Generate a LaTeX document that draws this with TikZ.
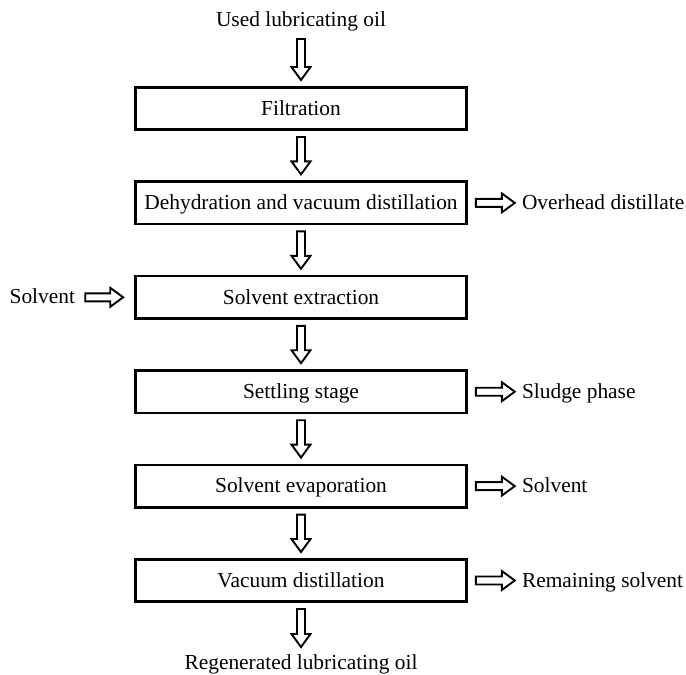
\documentclass[tikz,border=0pt]{standalone}
\usepackage{fontspec}
\setmainfont{Liberation Serif}
\usetikzlibrary{calc}
\tikzset{
  stage/.style={draw, line width=2.6pt, minimum width=331pt, minimum height=42.4pt, inner sep=0pt,
    text height=14.5pt, text depth=1pt, font=\fontsize{21.4}{25}\selectfont},
  lbl/.style={inner sep=0pt, font=\fontsize{21.4}{25}\selectfont},
  barrow/.style={draw, line width=1.9pt, fill=white, line join=miter,
    to path={
      ($(\tikztostart)!4pt!90:(\tikztotarget)$)
      -- ($(\tikztotarget)!13pt!(\tikztostart)!4pt!-90:(\tikztostart)$)
      -- ($(\tikztotarget)!13pt!(\tikztostart)!9.5pt!-90:(\tikztostart)$)
      -- (\tikztotarget)
      -- ($(\tikztotarget)!13pt!(\tikztostart)!9.5pt!90:(\tikztostart)$)
      -- ($(\tikztotarget)!13pt!(\tikztostart)!4pt!90:(\tikztostart)$)
      -- ($(\tikztostart)!4pt!-90:(\tikztotarget)$) -- cycle}}
}
\begin{document}
\begin{tikzpicture}[x=1pt, y=-1pt]
\useasboundingbox (0,0) rectangle (686,675);
% stages
\node[stage] (s1) at (301,108.5) {Filtration};
\node[stage] (s2) at (301,202.9) {Dehydration and vacuum distillation};
\node[stage] (s3) at (301,297.3) {Solvent extraction};
\node[stage] (s4) at (301,391.7) {Settling stage};
\node[stage] (s5) at (301,486.1) {Solvent evaporation};
\node[stage] (s6) at (301,580.5) {Vacuum distillation};
% input / output texts
\node[lbl, anchor=base] (in) at (301,26) {Used lubricating oil};
\node[lbl, anchor=base] (out) at (301,669.5) {Regenerated lubricating oil};
\coordinate (tin) at (301,39);
\coordinate (tout) at (301,647);
% vertical arrows
\draw[barrow] (tin) to ([yshift=6pt]s1.north);
\draw[barrow] ([yshift=-6pt]s1.south) to ([yshift=6pt]s2.north);
\draw[barrow] ([yshift=-6pt]s2.south) to ([yshift=6pt]s3.north);
\draw[barrow] ([yshift=-6pt]s3.south) to ([yshift=6pt]s4.north);
\draw[barrow] ([yshift=-6pt]s4.south) to ([yshift=6pt]s5.north);
\draw[barrow] ([yshift=-6pt]s5.south) to ([yshift=6pt]s6.north);
\draw[barrow] ([yshift=-6pt]s6.south) to (tout);
% side arrows
\coordinate (e2) at ($(s2.east)+(47,0)$);
\coordinate (e4) at ($(s4.east)+(47,0)$);
\coordinate (e5) at ($(s5.east)+(47,0)$);
\coordinate (e6) at ($(s6.east)+(47,0)$);
\coordinate (w3) at ($(s3.west)+(-49,0)$);
\draw[barrow] ([xshift=8pt]s2.east) to (e2);
\draw[barrow] ([xshift=8pt]s4.east) to (e4);
\draw[barrow] ([xshift=8pt]s5.east) to (e5);
\draw[barrow] ([xshift=8pt]s6.east) to (e6);
\draw[barrow] (w3) to ([xshift=-11pt]s3.west);
\node[lbl, anchor=base west] (o2) at ($(e2)+(7,6.5)$) {Overhead distillate};
\node[lbl, anchor=base west] (o4) at ($(e4)+(7,6.5)$) {Sludge phase};
\node[lbl, anchor=base west] (o5) at ($(e5)+(7,6.5)$) {Solvent};
\node[lbl, anchor=base west] (o6) at ($(e6)+(7,6.5)$) {Remaining solvent};
\node[lbl, anchor=base east] (i3) at ($(w3)+(-10,6.5)$) {Solvent};
\end{tikzpicture}
\end{document}
